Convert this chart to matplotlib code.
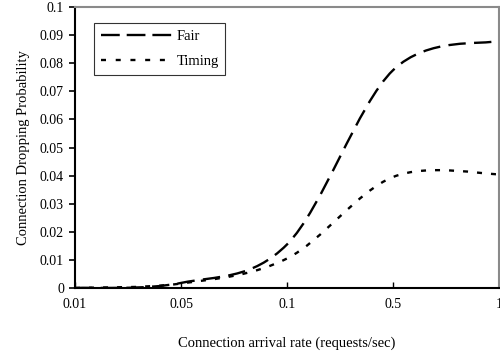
import matplotlib
matplotlib.use("Agg")
import matplotlib.pyplot as plt
from matplotlib.path import Path
from matplotlib.patches import PathPatch
from matplotlib.lines import Line2D
from matplotlib.ticker import FuncFormatter

plt.rcParams['font.family'] = ['Liberation Serif', 'DejaVu Serif']
plt.rcParams['lines.scale_dashes'] = False

# ---- data ----
rate_labels = ["0.01", "0.05", "0.1", "0.5", "1"]
fair = [0.0, 0.0018, 0.0155, 0.0775, 0.0880]
timing = [0.0, 0.0016, 0.0105, 0.0395, 0.0405]
series_names = ["Fair", "Timing"]

fig = plt.figure(figsize=(5.0, 3.51), dpi=100)
ax = fig.add_axes([0.15, 0.1795, 0.848, 0.8005])

xs = list(range(len(rate_labels)))


def smooth_path(x, y):
    """Excel-style smoothed line: cubic Bezier through the data points."""
    n = len(x)
    verts = [(x[0], y[0])]
    codes = [Path.MOVETO]
    for i in range(n - 1):
        xm, ym = (x[i - 1], y[i - 1]) if i > 0 else (x[i], y[i])
        xp, yp = (x[i + 2], y[i + 2]) if i + 2 < n else (x[i + 1], y[i + 1])
        c1 = (x[i] + (x[i + 1] - xm) / 6.0, y[i] + (y[i + 1] - ym) / 6.0)
        c2 = (x[i + 1] - (xp - x[i]) / 6.0, y[i + 1] - (yp - y[i]) / 6.0)
        verts += [c1, c2, (x[i + 1], y[i + 1])]
        codes += [Path.CURVE4] * 3
    return Path(verts, codes)


lw = 1.7
fair_dash = (0, (12.5, 6.0))
timing_dash = (0, (3.6, 6.5))

ax.add_patch(PathPatch(smooth_path(xs, fair), fill=False, edgecolor='black',
                       linewidth=lw, linestyle=fair_dash, capstyle='butt', zorder=3))
ax.add_patch(PathPatch(smooth_path(xs, timing), fill=False, edgecolor='black',
                       linewidth=lw, linestyle=timing_dash, capstyle='butt', zorder=3))

ax.set_xlim(0, len(rate_labels) - 1)
ax.set_ylim(0, 0.1)
ax.set_xticks(xs)
ax.set_xticklabels(rate_labels)
ax.set_yticks([i / 100 for i in range(11)])
ax.yaxis.set_major_formatter(FuncFormatter(lambda v, p: "%g" % round(v, 2)))

ax.tick_params(axis='y', direction='out', length=4, width=1.2, pad=4, labelsize=10)
ax.tick_params(axis='x', direction='in', length=4, width=1.0, pad=7.5, labelsize=10)

for s in ['left', 'bottom']:
    ax.spines[s].set_color('black')
    ax.spines[s].set_linewidth(1.5)
for s in ['top', 'right']:
    ax.spines[s].set_color('#8a8a8a')
    ax.spines[s].set_linewidth(1.5)

ax.set_xlabel("Connection arrival rate (requests/sec)", fontsize=10.5, labelpad=18)
ax.set_ylabel("Connection Dropping Probability", fontsize=10.5, labelpad=7)

handles = [
    Line2D([], [], color='black', linewidth=lw, linestyle=(0, (13.5, 5.0)), dash_capstyle='butt'),
    Line2D([], [], color='black', linewidth=lw, linestyle=(0, (3.6, 7.0)), dash_capstyle='butt'),
]
leg = ax.legend(handles, series_names, loc='upper left', bbox_to_anchor=(0.045, 0.943),
                borderaxespad=0, fancybox=False, frameon=True, fontsize=10.5,
                handlelength=5.0, handletextpad=0.2, labelspacing=0.85,
                borderpad=0.45)
leg.get_frame().set_edgecolor('black')
leg.get_frame().set_linewidth(0.8)

fig.savefig("out.png", dpi=100)
